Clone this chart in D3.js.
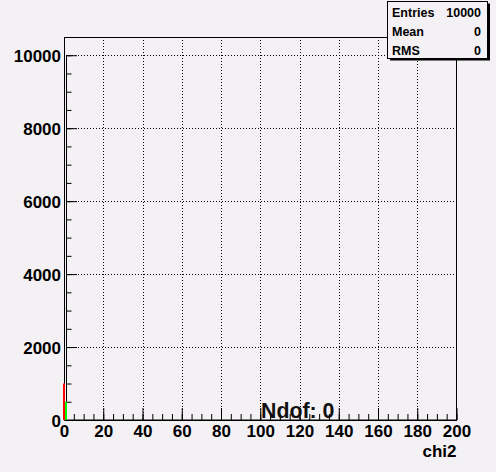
<!DOCTYPE html>
<html><head><meta charset="utf-8">
<script src="https://cdn.jsdelivr.net/npm/d3@7"></script>
<style>
html,body{margin:0;padding:0;background:#f4f1f4;}
svg{display:block;}
text{font-family:"Liberation Sans",Arial,Helvetica,sans-serif;font-weight:bold;}
</style></head>
<body>
<script>
// ---- data ----
const xTicks = [0,20,40,60,80,100,120,140,160,180,200];
const yTicks = [0,2000,4000,6000,8000,10000];
const redBins = [{x0:-0.5, x1:0.5, v:1000}];
const greenBins = [{x0:0.5, x1:1.5, v:500}];
const statsLabels = ["Entries","Mean","RMS"];
const statsValues = ["10000","0","0"];
const xTitle = "chi2";
const note = "Ndof: 0";

const W=496,H=472;
const svg=d3.select("body").append("svg").attr("width",W).attr("height",H);
svg.append("rect").attr("width",W).attr("height",H).attr("fill","#f4f1f4");

const x=d3.scaleLinear().domain([0,200]).range([64,456.5]);
const y=d3.scaleLinear().domain([0,10500]).range([420,37]);

// grid
const grid=svg.append("g").attr("stroke","#000").attr("stroke-width",1).attr("stroke-dasharray","1,2");
grid.selectAll(".gv").data(xTicks.slice(1,-1)).join("line")
  .attr("x1",d=>Math.round(x(d))+0.5).attr("x2",d=>Math.round(x(d))+0.5)
  .attr("y1",y.range()[1]).attr("y2",y(0));
grid.selectAll(".gh").data(yTicks.slice(1)).join("line")
  .attr("y1",d=>Math.round(y(d))+0.5).attr("y2",d=>Math.round(y(d))+0.5)
  .attr("x1",x(0)+2).attr("x2",x(200));

// frame
svg.append("rect").attr("x",64.5).attr("y",37.5).attr("width",x(200)-64.5).attr("height",420-37.5)
  .attr("fill","none").attr("stroke","#000").attr("stroke-width",1);

// x axis
const gx=svg.append("g").attr("transform",`translate(0,${y(0)})`);
gx.call(d3.axisBottom(x).tickValues(d3.range(0,201,5)).tickSize(-6).tickFormat("").tickSizeOuter(0));
const gx2=svg.append("g").attr("transform",`translate(0,${y(0)})`);
gx2.call(d3.axisBottom(x).tickValues(xTicks).tickSize(-12).tickPadding(5).tickSizeOuter(0));
[gx,gx2].forEach(g=>{g.selectAll("line,path").attr("stroke","#000");});
gx2.select(".domain").remove();
gx2.selectAll("text").attr("font-size",17).attr("fill","#000").style("font-weight","bold");

// y axis (drawn from 0 up to the last labelled tick)
const yAxX=66;
const gy=svg.append("g").attr("transform",`translate(${yAxX},0)`);
gy.call(d3.axisLeft(y).tickValues(d3.range(0,10001,500)).tickSize(-5.5).tickFormat("").tickSizeOuter(0));
gy.select(".domain").remove();
const gy2=svg.append("g").attr("transform",`translate(${yAxX},0)`);
gy2.call(d3.axisLeft(y).tickValues(yTicks).tickSize(-11).tickPadding(5).tickFormat(d3.format("d")).tickSizeOuter(0));
gy2.select(".domain").remove();
[gy,gy2].forEach(g=>g.selectAll("line").attr("stroke","#000"));
gy2.selectAll("text").attr("font-size",17).attr("fill","#000").style("font-weight","bold").attr("dy","0.36em");
svg.append("line").attr("x1",yAxX+0.5).attr("x2",yAxX+0.5).attr("y1",y(10000)).attr("y2",y(0)).attr("stroke","#000");

// bars (drawn over the axes)
function bars(data,color){
  svg.append("g").selectAll("rect").data(data).join("rect")
    .attr("x",d=>x(d.x0)).attr("width",d=>x(d.x1)-x(d.x0))
    .attr("y",d=>y(d.v)).attr("height",d=>y(0)-y(d.v)).attr("fill",color);
}
bars(redBins,"#ff0000");
bars(greenBins,"#00ff00");

// axis title
svg.append("text").attr("x",x(200)).attr("y",457).attr("text-anchor","end").attr("font-size",17).attr("fill","#000").text(xTitle);

// note
svg.append("text").attr("x",261).attr("y",417.5).attr("font-size",21.3).attr("fill","#111").text(note);

// stats box
const bx=387.5,by=1.5,bw=100,bh=57;
svg.append("rect").attr("x",bx+2.5).attr("y",by+2).attr("width",bw).attr("height",bh).attr("fill","#000");
svg.append("rect").attr("x",bx).attr("y",by).attr("width",bw).attr("height",bh).attr("fill","#f4f1f4").attr("stroke","#000");
const st=svg.append("g").attr("font-size",12.5).attr("fill","#000");
statsLabels.forEach((l,i)=>{
  st.append("text").attr("x",392).attr("y",17.3+i*18.9).text(l);
  st.append("text").attr("x",481).attr("y",17.3+i*18.9).attr("text-anchor","end").text(statsValues[i]);
});
</script>
</body></html>
